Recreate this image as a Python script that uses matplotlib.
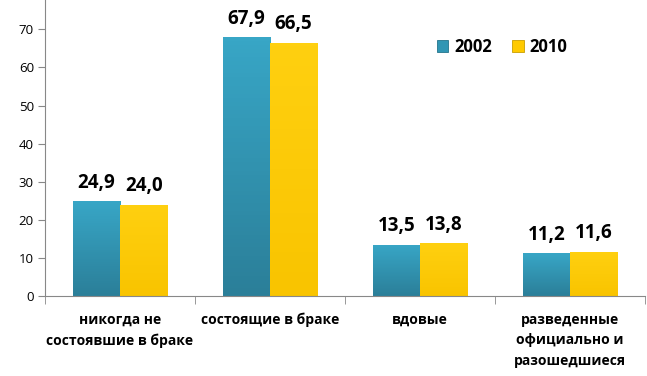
import numpy as np
import matplotlib
matplotlib.use("Agg")
import matplotlib.pyplot as plt
from matplotlib.colors import LinearSegmentedColormap

# DATA
categories = ["никогда не\nсостоявшие в браке", "состоящие в браке", "вдовые",
              "разведенные\nофициально и\nразошедшиеся"]
years = ["2002", "2010"]
vals_2002 = [24.9, 67.9, 13.5, 11.2]
vals_2010 = [24.0, 66.5, 13.8, 11.6]
yticks = [0, 10, 20, 30, 40, 50, 60, 70]

plt.rcParams['font.family'] = ['Open Sans', 'DejaVu Sans']

fig = plt.figure(figsize=(6.47, 3.76), dpi=100)
ax = fig.add_axes([0.0696, 0.2128, 0.9274, 0.7872])

x = np.arange(len(categories))
w = 0.316
b1 = ax.bar(x - w / 2, vals_2002, w, color='#3196B4', edgecolor='#24748c', linewidth=0.6, label=years[0], zorder=2)
b2 = ax.bar(x + w / 2, vals_2010, w, color='#FFCA00', edgecolor='#c99e00', linewidth=0.6, label=years[1], zorder=2)

# vertical gradient inside each bar
blue_cm = LinearSegmentedColormap.from_list('b', ['#2b7f99', '#38a6c6'])
yel_cm = LinearSegmentedColormap.from_list('y', ['#f9c400', '#ffd010'])
grad = np.linspace(0, 1, 64).reshape(-1, 1)
for bars, cm in ((b1, blue_cm), (b2, yel_cm)):
    for p in bars:
        x0, y0 = p.get_x(), p.get_y()
        im = ax.imshow(grad, cmap=cm, origin='lower', aspect='auto', zorder=2.5,
                       extent=[x0, x0 + p.get_width(), y0, y0 + p.get_height()])
        im.set_clip_path(p)

for bars, vals in ((b1, vals_2002), (b2, vals_2010)):
    for p, v in zip(bars, vals):
        ax.text(p.get_x() + p.get_width() / 2, v + 2.2, f"{v:.1f}".replace('.', ','),
                ha='center', va='bottom', fontsize=13.5, fontweight='bold', color='black')

ax.set_xlim(-0.5, len(categories) - 0.5)
ax.set_ylim(0, 77.7)
ax.set_yticks(yticks)
ax.tick_params(axis='y', labelsize=9.5, length=5, color='#888888', pad=3)
ax.set_xticks(x)
ax.set_xticklabels(categories, fontsize=10, fontweight='bold', linespacing=1.6)
ax.tick_params(axis='x', which='major', length=0, pad=12)
ax.set_xticks(np.arange(-0.5, len(categories)), minor=True)
ax.tick_params(axis='x', which='minor', length=6, color='#888888')

for s in ('top', 'right'):
    ax.spines[s].set_visible(False)
for s in ('left', 'bottom'):
    ax.spines[s].set_color('#888888')

ax.legend(loc='center', bbox_to_anchor=(0.776, 0.875), bbox_transform=fig.transFigure,
          ncol=2, frameon=False, handlelength=0.7, handleheight=0.7, handletextpad=0.35,
          columnspacing=1.2, prop={'weight': 'bold', 'size': 12})

fig.savefig("out.png", dpi=100)
